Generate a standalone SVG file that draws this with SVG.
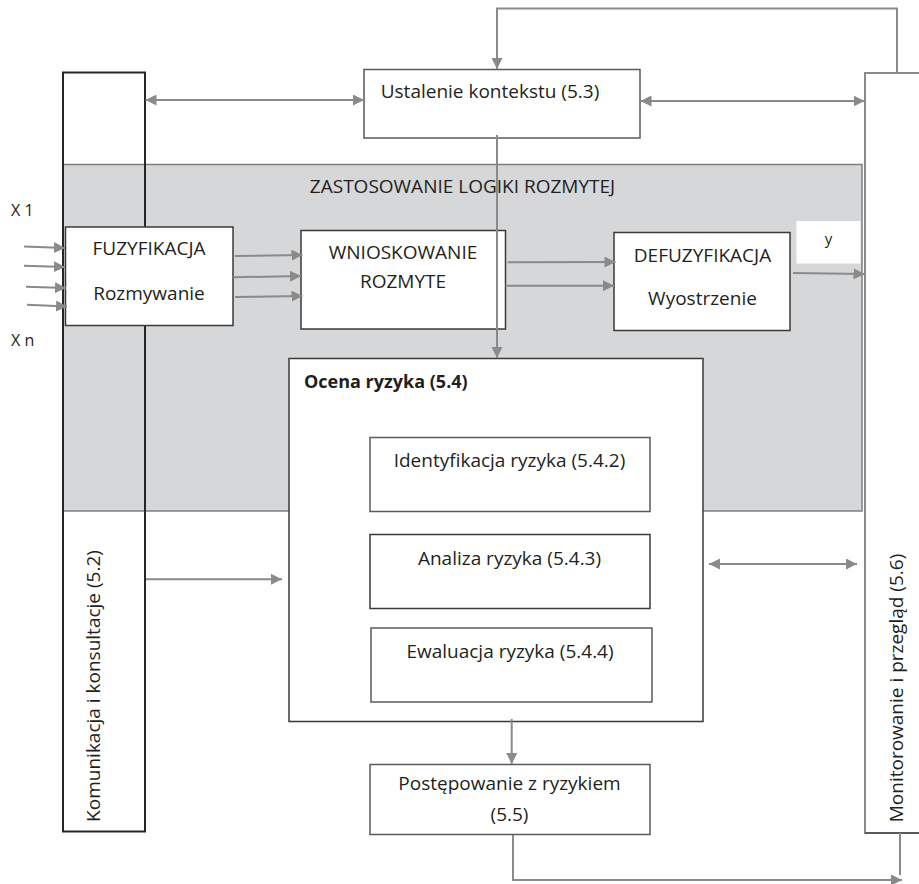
<svg xmlns="http://www.w3.org/2000/svg" width="919" height="884" viewBox="0 0 919 884">
<style>
text{font-family:"Open Sans","Liberation Sans",sans-serif;font-size:19px;fill:#231f20}
.c{text-anchor:middle}
.box{fill:#fff;stroke:#3a3a3a;stroke-width:1.5}
.box2{fill:#fff;stroke:#5a5a5a;stroke-width:1.5}
.con{fill:none;stroke:#8a8a8a;stroke-width:2}
.arr{marker-end:url(#ah)}
.dbl{marker-start:url(#ah);marker-end:url(#ah)}
</style>
<defs>
<marker id="ah" markerUnits="userSpaceOnUse" markerWidth="11" markerHeight="11" viewBox="0 0 10 10" refX="10" refY="5" orient="auto-start-reverse">
<path d="M0,0 L10,5 L0,10 z" fill="#8a8a8a"/>
</marker>
</defs>
<rect x="0" y="0" width="919" height="884" fill="#fff"/>

<g id="logika">
<rect x="63" y="164.5" width="799" height="346.5" fill="#d6d7d9" stroke="#7f7f7f" stroke-width="1.5"/>
<text class="c" x="462.5" y="193">ZASTOSOWANIE LOGIKI ROZMYTEJ</text>
</g>

<g id="komunikacja">
<rect x="63" y="72.5" width="82" height="759" fill="none" stroke="#262626" stroke-width="2"/>
<text class="c" transform="translate(100,686) rotate(-90)">Komunikacja i konsultacje (5.2)</text>
</g>

<g id="monitorowanie">
<rect x="865" y="73" width="70" height="760" fill="#fff" stroke="#8a8a8a" stroke-width="2"/>
<line x1="865" y1="833" x2="919" y2="833" stroke="#4a4a4a" stroke-width="1.5"/>
<text class="c" transform="translate(902.5,688) rotate(-90)">Monitorowanie i przegląd (5.6)</text>
</g>

<g id="ustalenie">
<rect class="box2" x="364" y="69.5" width="276" height="68.5"/>
<text class="c" x="490" y="98">Ustalenie kontekstu (5.3)</text>
</g>

<g id="fuzyfikacja">
<rect class="box" x="65.5" y="227" width="167.5" height="98.5"/>
<text class="c" x="149" y="255">FUZYFIKACJA</text>
<text class="c" x="149" y="300">Rozmywanie</text>
</g>

<g id="wnioskowanie">
<rect class="box" x="301" y="230.5" width="204.5" height="98.5"/>
<text class="c" x="403" y="259">WNIOSKOWANIE</text>
<text class="c" x="403" y="288">ROZMYTE</text>
</g>

<g id="defuzyfikacja">
<rect class="box" x="614" y="232.5" width="176" height="98"/>
<text class="c" x="702.5" y="261.5">DEFUZYFIKACJA</text>
<text class="c" x="702.5" y="305">Wyostrzenie</text>
</g>

<g id="wyjscie-y">
<rect x="796.5" y="221" width="64" height="42.5" fill="#fff"/>
<text class="c" x="828.5" y="244" style="font-size:15px">y</text>
</g>

<g id="wejscia">
<text x="11" y="216" style="font-size:16px">X 1</text>
<text x="11" y="346" style="font-size:16px">X n</text>
</g>

<g id="ocena">
<rect class="box" x="289" y="358.5" width="414" height="363"/>
<text x="304" y="388" style="font-weight:bold;font-size:18px">Ocena ryzyka (5.4)</text>
</g>

<g id="identyfikacja">
<rect class="box2" x="370" y="437.5" width="280" height="74"/>
<text class="c" x="509.5" y="466.5">Identyfikacja ryzyka (5.4.2)</text>
</g>

<g id="analiza">
<rect class="box" x="370" y="534.5" width="280" height="74"/>
<text class="c" x="509.5" y="564.5">Analiza ryzyka (5.4.3)</text>
</g>

<g id="ewaluacja">
<rect class="box2" x="371" y="628" width="281" height="74"/>
<text class="c" x="510" y="658">Ewaluacja ryzyka (5.4.4)</text>
</g>

<g id="postepowanie">
<rect class="box2" x="370" y="764.5" width="280" height="70"/>
<text class="c" x="509.5" y="790">Postępowanie z ryzykiem</text>
<text class="c" x="509.5" y="821">(5.5)</text>
</g>

<g id="connectors">
<path class="con arr" d="M897,73 V8.5 H497 V69"/>
<line class="con dbl" x1="145.5" y1="100" x2="364" y2="100"/>
<line class="con dbl" x1="640.5" y1="101" x2="864.5" y2="101"/>
<line class="con arr" x1="497" y1="135" x2="497" y2="358"/>
<line class="con arr" x1="24" y1="246.5" x2="65" y2="248"/>
<line class="con arr" x1="24" y1="265.7" x2="65" y2="267"/>
<line class="con arr" x1="26" y1="286.7" x2="66" y2="288"/>
<line class="con arr" x1="27" y1="304.7" x2="67" y2="306.5"/>
<line class="con arr" x1="235" y1="256" x2="302.5" y2="255"/>
<line class="con arr" x1="233" y1="277.3" x2="301" y2="276"/>
<line class="con arr" x1="235" y1="297" x2="302.5" y2="296"/>
<line class="con arr" x1="507.7" y1="262.3" x2="615.5" y2="262"/>
<line class="con arr" x1="505.5" y1="285.7" x2="614" y2="285.7"/>
<line class="con arr" x1="793" y1="273" x2="864.5" y2="274"/>
<line class="con arr" x1="146" y1="579.3" x2="282" y2="579.3"/>
<line class="con dbl" x1="709" y1="564" x2="857" y2="564"/>
<line class="con arr" x1="511.7" y1="719" x2="511.7" y2="764"/>
<path class="con arr" d="M513,835 V880 H902"/>
<line class="con" x1="900" y1="833" x2="900" y2="875" stroke-width="1.5"/>
</g>
</svg>
